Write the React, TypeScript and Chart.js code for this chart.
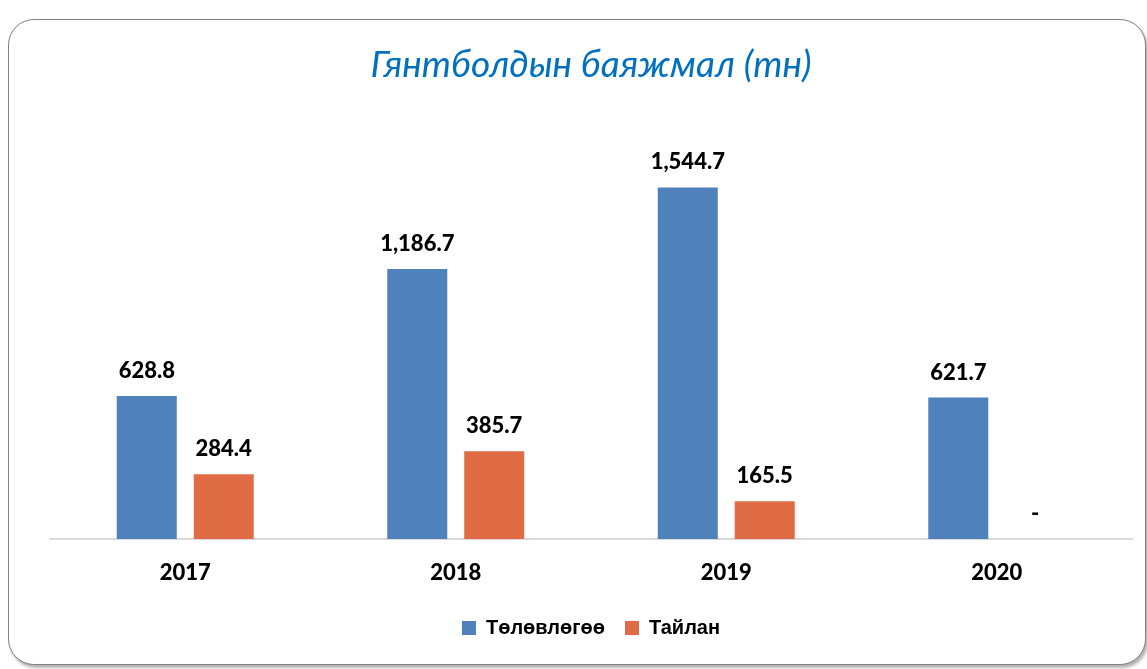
import React, { useEffect, useRef } from "react";
import { Chart, registerables } from "chart.js";

Chart.register(...registerables);

const categories = ["2017", "2018", "2019", "2020"];
const planValues = [628.8, 1186.7, 1544.7, 621.7];
const actualValues = [284.4, 385.7, 165.5, 0];
const seriesNames = ["Төлөвлөгөө", "Тайлан"];
const titleText = "Гянтболдын баяжмал (тн)";

const BLUE = "#4F81BD";
const ORANGE = "#E06C45";

const fmt = (v: number) =>
  v === 0
    ? "-"
    : v.toLocaleString("en-US", { minimumFractionDigits: 1, maximumFractionDigits: 1 });

const dataLabelPlugin = {
  id: "dataLabels",
  afterDatasetsDraw(chart: any) {
    const ctx = chart.ctx;
    ctx.save();
    ctx.font = "900 22px Lato";
    ctx.fillStyle = "#000";
    ctx.textAlign = "center";
    ctx.textBaseline = "alphabetic";
    chart.data.datasets.forEach((ds: any, di: number) => {
      const meta = chart.getDatasetMeta(di);
      meta.data.forEach((bar: any, i: number) => {
        const v = ds.data[i];
        if (v === null || v === undefined) return;
        ctx.fillText(fmt(v), bar.x, bar.y - 18);
      });
    });
    ctx.restore();
  },
};

export default function App() {
  const ref = useRef<HTMLCanvasElement | null>(null);
  useEffect(() => {
    if (!ref.current) return;
    const chart = new Chart(ref.current, {
      type: "bar",
      data: {
        labels: categories,
        datasets: [
          {
            label: seriesNames[0],
            data: planValues,
            backgroundColor: BLUE,
            categoryPercentage: 0.569,
            barPercentage: 0.78,
          },
          {
            label: seriesNames[1],
            data: actualValues,
            backgroundColor: ORANGE,
            categoryPercentage: 0.569,
            barPercentage: 0.78,
          },
        ],
      },
      options: {
        responsive: false,
        animation: false,
        layout: { padding: { left: 50, right: 15, top: 0, bottom: 21 } },
        scales: {
          x: {
            grid: { display: false, drawTicks: false },
            border: { display: true, color: "#D9D9D9", width: 2 },
            ticks: {
              color: "#000",
              font: { family: "Lato", weight: "900", size: 22 },
              padding: 21,
            },
            afterFit: (scale: any) => {
              scale.height = 59;
            },
          },
          y: {
            display: false,
            min: 0,
            max: 1800,
          },
        },
        plugins: {
          title: {
            display: true,
            text: titleText,
            color: "#0070C0",
            font: { family: "Lato", style: "italic", weight: "normal", size: 37 },
            padding: { top: 43, bottom: 42 },
          },
          legend: {
            position: "bottom",
            labels: {
              color: "#000",
              font: { family: "Liberation Sans", weight: "bold", size: 20 },
              boxWidth: 14,
              boxHeight: 14,
              padding: 20,
            },
          },
          tooltip: { enabled: false },
        },
      },
      plugins: [dataLabelPlugin],
    } as any);
    return () => chart.destroy();
  }, []);

  return (
    <div>
      <div
        style={{
          position: "absolute",
          left: 8,
          top: 19,
          width: 1138,
          height: 646,
          boxSizing: "border-box",
          border: "1.5px solid #808080",
          borderRadius: 26,
          boxShadow: "2px 3px 3px rgba(0,0,0,0.3)",
          background: "#fff",
        }}
      />
      <canvas
        ref={ref}
        width={1147}
        height={669}
        style={{ position: "absolute", left: 0, top: 0, width: 1147, height: 669 }}
      />
    </div>
  );
}
